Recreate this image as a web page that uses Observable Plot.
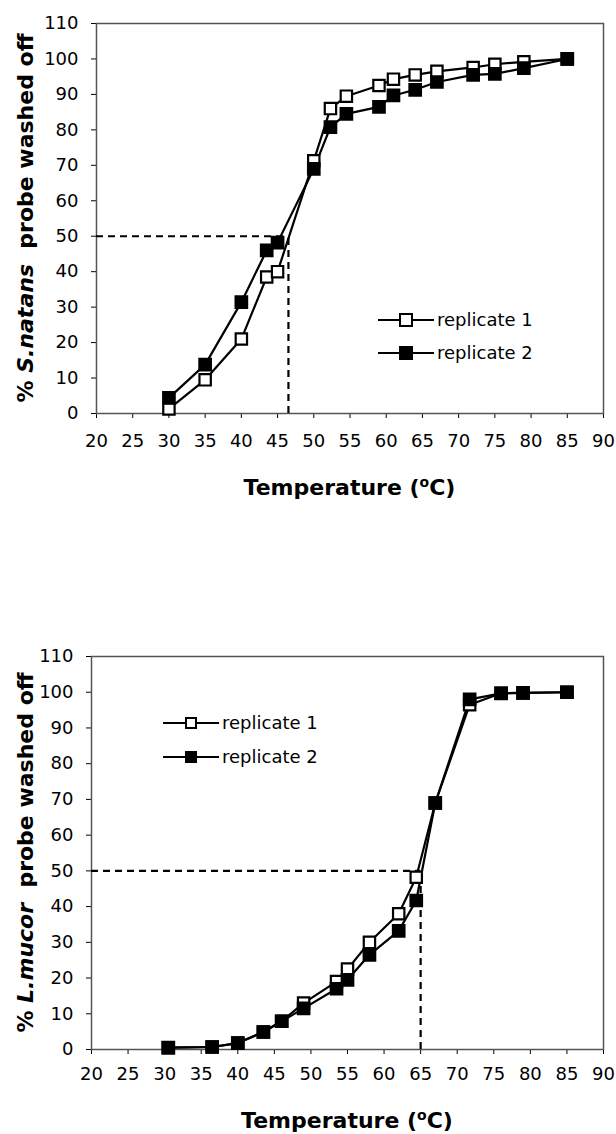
<!DOCTYPE html>
<html>
<head>
<meta charset="utf-8">
<script src="https://cdn.jsdelivr.net/npm/d3@7"></script>
<script src="https://cdn.jsdelivr.net/npm/@observablehq/plot@0.6"></script>
<style>
  body { margin: 0; background: #fff; }
  svg { display: block; }
</style>
</head>
<body>
<div id="charts"></div>
<script>
// Axis ticks shared by both panels
const xTicks = [20, 25, 30, 35, 40, 45, 50, 55, 60, 65, 70, 75, 80, 85, 90];
const yTicks = [0, 10, 20, 30, 40, 50, 60, 70, 80, 90, 100, 110];
const seriesNames = ["replicate 1", "replicate 2"];
const halfLevel = 50;

// S. natans probe: wash temperature (°C) and % probe washed off
const snTemp = [30, 35, 40, 43.5, 45, 50, 52.3, 54.5, 59, 61, 64, 67, 72, 75, 79, 85];
const snRep1 = [1.3, 9.5, 21, 38.5, 40, 71.3, 86, 89.5, 92.5, 94.3, 95.5, 96.5, 97.6, 98.5, 99.2, 100];
const snRep2 = [4.4, 13.8, 31.4, 46, 48.2, 69, 80.8, 84.5, 86.5, 89.7, 91.3, 93.5, 95.5, 95.8, 97.4, 100];
const snHalfTemp = 46.5;

// L. mucor probe
const lmTemp = [30.5, 36.5, 40, 43.5, 46, 49, 53.5, 55, 58, 62, 64.4, 67, 71.7, 76, 79, 85];
const lmRep1 = [0.5, 0.7, 1.8, 4.9, 7.9, 13, 19, 22.5, 30, 38, 48.2, 69, 96.5, 99.7, 99.8, 100];
const lmRep2 = [0.5, 0.7, 1.8, 4.9, 7.9, 11.5, 17, 19.5, 26.5, 33.2, 41.7, 69, 98, 99.7, 99.8, 100];
const lmHalfTemp = 65;

const FONT = "DejaVu Sans";

function panel(cfg) {
  const d1 = cfg.temp.map((t, i) => ({t, v: cfg.rep1[i]}));
  const d2 = cfg.temp.map((t, i) => ({t, v: cfg.rep2[i]}));
  const dash = {stroke: "#000", strokeWidth: 2.2, strokeDasharray: "7,5"};
  const svg = Plot.plot({
    width: 616,
    height: cfg.height,
    marginTop: cfg.mt,
    marginBottom: cfg.mb,
    marginLeft: cfg.ml,
    marginRight: cfg.mr,
    style: {fontFamily: FONT, fontSize: "18px", color: "#000", background: "#fff", overflow: "visible"},
    x: {domain: [20, 90], ticks: xTicks, tickSize: 5, tickPadding: cfg.xPad, label: null},
    y: {domain: [0, 110], ticks: yTicks, tickSize: 5, tickPadding: 13, label: null},
    marks: [
      Plot.frame({stroke: "#555", strokeWidth: 1.5}),
      Plot.ruleY([halfLevel], {x1: 20, x2: cfg.half, ...dash}),
      Plot.ruleX([cfg.half], {y1: 0, y2: halfLevel, ...dash}),
      Plot.line(d1, {x: "t", y: "v", stroke: "#000", strokeWidth: 2.2}),
      Plot.line(d2, {x: "t", y: "v", stroke: "#000", strokeWidth: 2.2}),
      Plot.dot(d1, {x: "t", y: "v", symbol: "square", r: 6.4, fill: "#fff", stroke: "#000", strokeWidth: 2.2}),
      Plot.dot(d2, {x: "t", y: "v", symbol: "square", r: 6.6, fill: "#000", stroke: "#000", strokeWidth: 2})
    ]
  });

  const s = d3.select(svg);
  const plotTop = cfg.mt, plotBottom = cfg.height - cfg.mb;
  const plotMidX = (cfg.ml + 616 - cfg.mr) / 2;

  // x-axis title with superscript degree "o"
  const xt = s.append("text")
    .attr("x", plotMidX).attr("y", cfg.xTitleY)
    .attr("text-anchor", "middle")
    .attr("font-family", FONT).attr("font-weight", "bold").attr("font-size", 22)
    .attr("fill", "#000");
  xt.append("tspan").text("Temperature (");
  xt.append("tspan").attr("dy", -8).attr("font-size", 14).text("o");
  xt.append("tspan").attr("dy", 8).text("C)");

  // y-axis title with italic species name
  const yt = s.append("text")
    .attr("transform", `translate(33,${(plotTop + plotBottom) / 2}) rotate(-90)`)
    .attr("text-anchor", "middle")
    .attr("font-family", FONT).attr("font-weight", "bold").attr("font-size", 22)
    .attr("fill", "#000");
  yt.append("tspan").text("% ");
  yt.append("tspan").attr("font-style", "italic").text(cfg.species);
  yt.append("tspan").text("  probe washed off");

  // legend
  const lg = s.append("g").attr("font-family", FONT).attr("font-size", 18)
    .attr("text-anchor", "start");
  seriesNames.forEach((name, i) => {
    const y = cfg.legY[i];
    const g = lg.append("g").attr("transform", `translate(${cfg.legX},${y})`);
    g.append("line").attr("x1", 0).attr("x2", 56).attr("y1", 0).attr("y2", 0)
      .attr("stroke", "#000").attr("stroke-width", 2.2);
    const side = cfg.legBox;
    g.append("rect").attr("x", 28 - side / 2).attr("y", -side / 2)
      .attr("width", side).attr("height", side)
      .attr("fill", i === 0 ? "#fff" : "#000")
      .attr("stroke", "#000").attr("stroke-width", 2);
    g.append("text").attr("x", 59).attr("y", 0).attr("dy", "0.35em")
      .attr("text-anchor", "start")
      .attr("fill", "#000").text(name);
  });
  return svg;
}

const root = document.getElementById("charts");
root.appendChild(panel({
  temp: snTemp, rep1: snRep1, rep2: snRep2, half: snHalfTemp, species: "S.natans",
  height: 567, mt: 23, mb: 154, ml: 96, mr: 13, xPad: 16, xTitleY: 495,
  legX: 378, legY: [320, 353], legBox: 12
}));
root.appendChild(panel({
  temp: lmTemp, rep1: lmRep1, rep2: lmRep2, half: lmHalfTemp, species: "L.mucor",
  height: 567, mt: 89, mb: 85, ml: 91, mr: 13, xPad: 13, xTitleY: 561,
  legX: 163, legY: [156, 190], legBox: 10
}));
</script>
</body>
</html>
